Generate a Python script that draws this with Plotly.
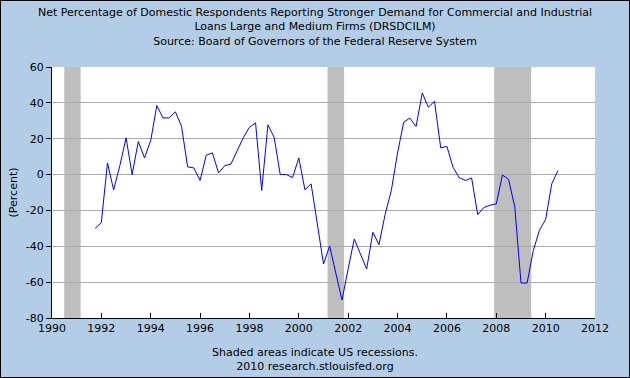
import pandas as pd
import plotly.graph_objects as go

# ---- data ----
title_text = ("Net Percentage of Domestic Respondents Reporting Stronger Demand for Commercial and Industrial<br>"
              "Loans Large and Medium Firms (DRSDCILM)<br>"
              "Source: Board of Governors of the Federal Reserve System")
footer_text = "Shaded areas indicate US recessions.<br>2010 research.stlouisfed.org"
y_label = "(Percent)"

first_quarter = "1991-10-01"
values = [
    -30.0,
    -26.8, 6.5, -8.6, 5.0,
    20.5, 0.0, 18.4, 9.3,
    19.0, 38.5, 31.6, 31.6,
    35.0, 27.0, 4.3, 3.7,
    -3.3, 10.8, 12.1, 0.9,
    5.0, 5.8, 13.3, 20.5,
    26.4, 28.8, -8.9, 27.7,
    20.8, 0.0, 0.0, -1.7,
    9.3, -8.5, -5.2, -27.5,
    -49.9, -39.8, -55.4, -70.0,
    -52.5, -35.9, -44.3, -52.7,
    -32.2, -39.1, -22.3, -8.9,
    12.0, 29.2, 31.5, 26.8,
    45.5, 37.6, 40.9, 14.9,
    15.7, 4.1, -1.7, -3.3,
    -1.9, -22.3, -18.4, -17.1,
    -16.4, -0.2, -2.7, -18.0,
    -60.5, -60.5, -42.5, -31.0,
    -25.0, -5.2, 2.2,
]
recession_starts = ["1990-07-01", "2001-03-01", "2007-12-01"]
recession_ends = ["1991-03-01", "2001-11-01", "2009-06-01"]
y_tick_values = [-80, -60, -40, -20, 0, 20, 40, 60]
y_tick_labels = ["-80", "-60", "-40", "-20", "0", "20", "40", "60"]
x_tick_years = [1990, 1992, 1994, 1996, 1998, 2000, 2002, 2004, 2006, 2008, 2010, 2012]

dates = pd.date_range(first_quarter, periods=len(values), freq="QS")

W, H = 630, 378
L, R, T, B = 52, 35, 67, 60
pw, ph = W - L - R, H - T - B
BG = "#B4CDE6"
FONT = "DejaVu Sans"

fig = go.Figure()
fig.add_trace(go.Scatter(x=dates, y=values, mode="lines",
                         line=dict(color="#0000FF", width=1), showlegend=False))

for s, e in zip(recession_starts, recession_ends):
    fig.add_shape(type="rect", xref="x", yref="paper", x0=s, x1=e, y0=0, y1=1,
                  fillcolor="#BEBEBE", line=dict(width=0), layer="between")

# outer border around the whole picture
fig.add_shape(type="rect", xref="paper", yref="paper",
              x0=(-L + 0.5) / pw, x1=1 + (R - 0.5) / pw,
              y0=(-B + 0.5) / ph, y1=1 + (T - 0.5) / ph,
              line=dict(color="#000000", width=1), fillcolor="rgba(0,0,0,0)", layer="above")

fig.add_annotation(text=title_text, xref="paper", yref="paper",
                   x=(W / 2 - L) / pw, y=1 + (T - 27) / ph, xanchor="center", yanchor="middle",
                   showarrow=False, font=dict(family=FONT, size=11, color="#000000"))
fig.add_annotation(text=footer_text, xref="paper", yref="paper",
                   x=(W / 2 - L) / pw, y=-(359 - (T + ph)) / ph, xanchor="center", yanchor="middle",
                   showarrow=False, font=dict(family=FONT, size=11, color="#000000"))

fig.update_layout(
    width=W, height=H,
    margin=dict(l=L, r=R, t=T, b=B, pad=0),
    paper_bgcolor=BG, plot_bgcolor="#FFFFFF",
    font=dict(family=FONT, size=11, color="#000000"),
    showlegend=False,
)
fig.update_xaxes(
    range=["1990-01-01", "2012-01-01"],
    tickvals=[f"{y}-01-01" for y in x_tick_years],
    ticktext=[str(y) for y in x_tick_years],
    ticks="inside", ticklen=5, tickcolor="#000000",
    showline=True, linecolor="#000000", linewidth=1,
    showgrid=False, zeroline=False,
    tickfont=dict(family=FONT, size=11),
)
fig.update_yaxes(
    range=[-80, 60],
    tickvals=y_tick_values, ticktext=y_tick_labels,
    ticks="outside", ticklen=5, tickcolor="#000000",
    showline=True, linecolor="#000000", linewidth=1,
    showgrid=True, gridcolor="#AAAAAA", gridwidth=1, zeroline=False,
    tickfont=dict(family=FONT, size=11),
    title=dict(text=y_label, font=dict(family=FONT, size=11), standoff=5),
)

fig.write_html("out.html",
               config={"displayModeBar": False},
               post_script="document.body.style.margin='0';document.body.style.padding='0';")
